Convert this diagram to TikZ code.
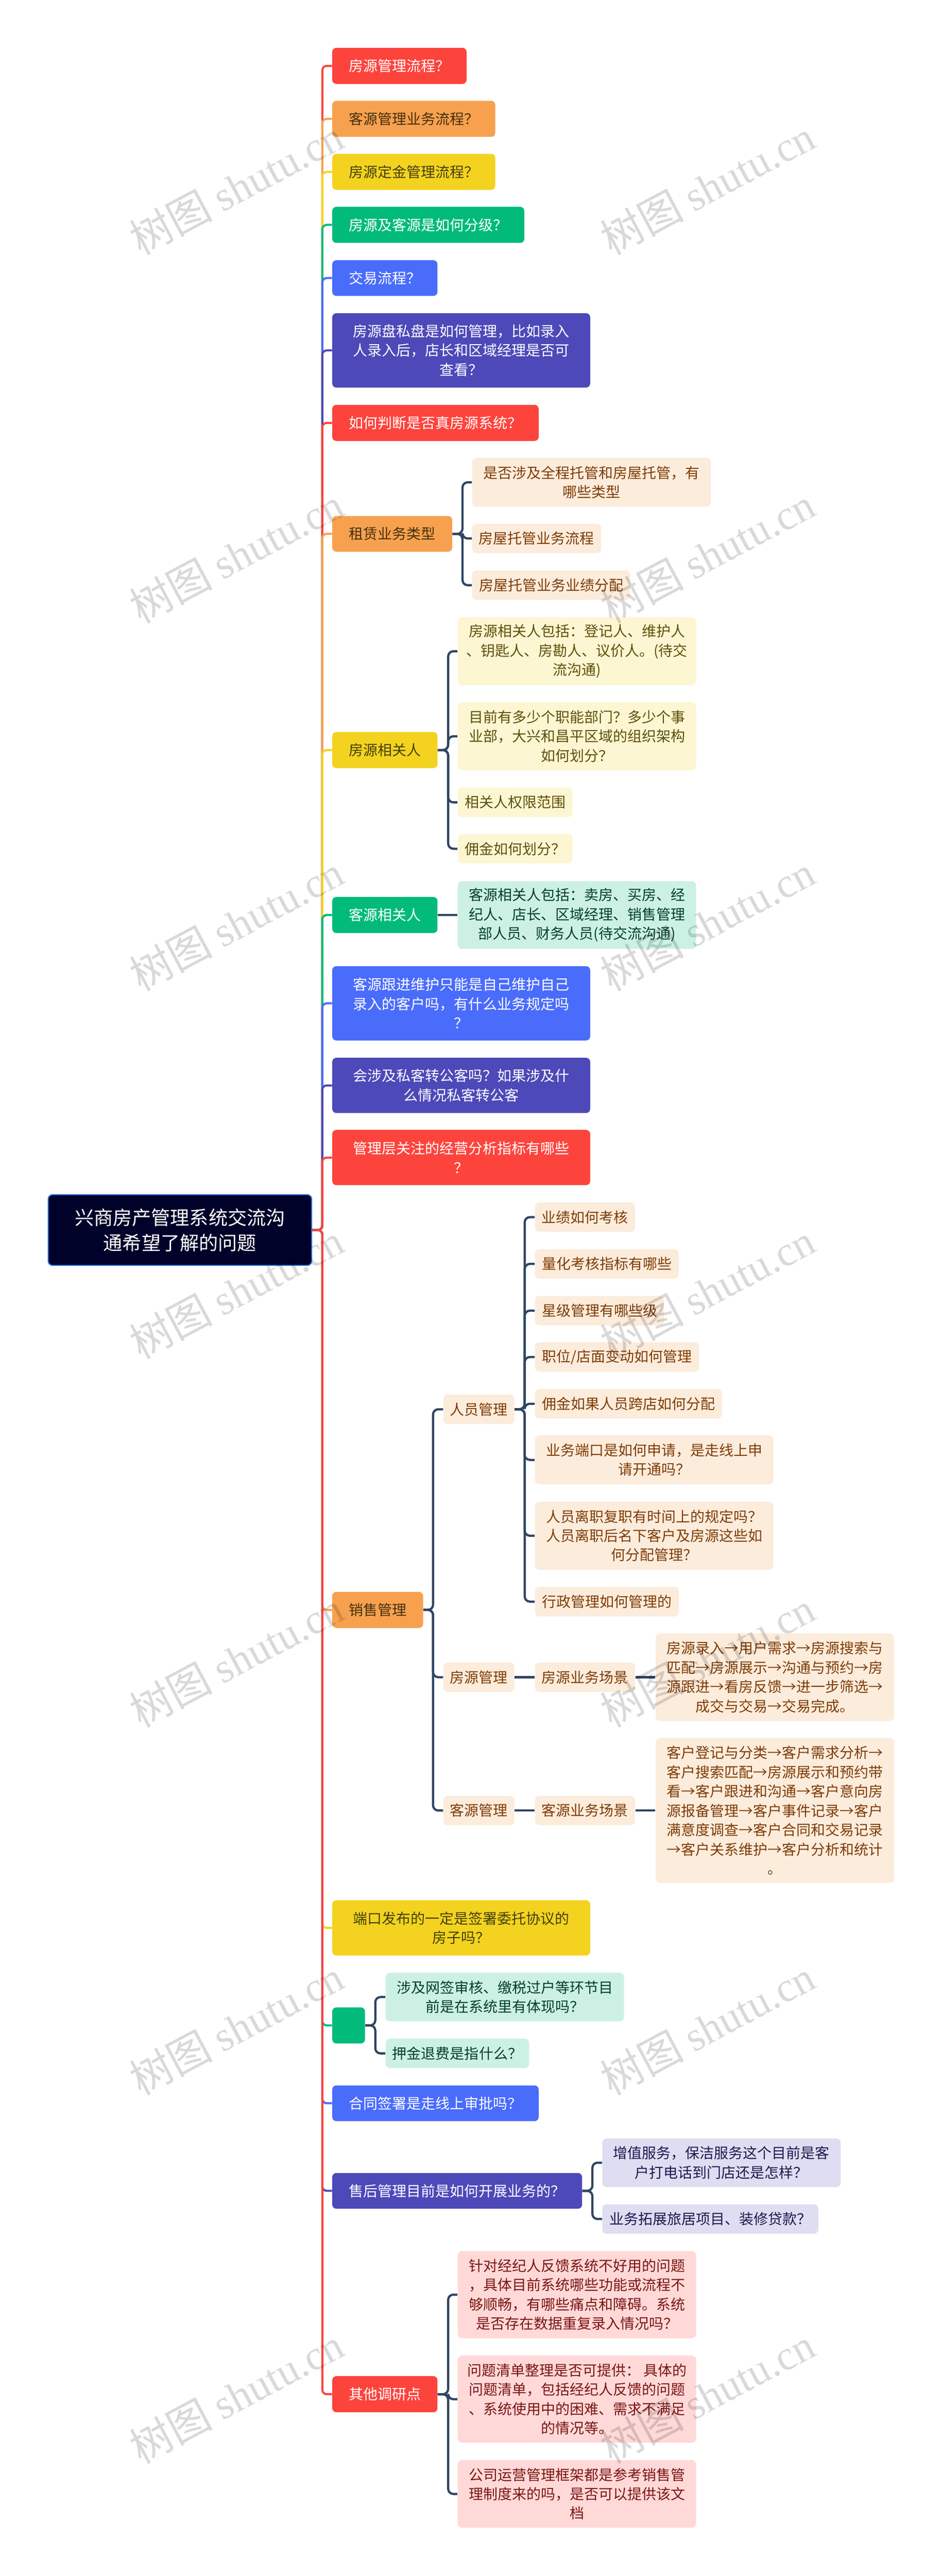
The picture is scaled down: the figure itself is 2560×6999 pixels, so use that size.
\documentclass[tikz,border=0pt]{standalone}
\usepackage{fontspec}
\setmainfont{Noto Sans CJK SC}
\newfontfamily\markfont{Liberation Serif}
\definecolor{fillred}{HTML}{FC443D}
\definecolor{inkred}{HTML}{FFFFFF}
\definecolor{fillorange}{HTML}{F7A14F}
\definecolor{inkorange}{HTML}{44300F}
\definecolor{fillyellow}{HTML}{F3D31F}
\definecolor{inkyellow}{HTML}{44400F}
\definecolor{fillgreen}{HTML}{02BB7A}
\definecolor{inkgreen}{HTML}{FFFFFF}
\definecolor{fillblue}{HTML}{4A6CFB}
\definecolor{inkblue}{HTML}{FFFFFF}
\definecolor{fillindigo}{HTML}{4D49B8}
\definecolor{inkindigo}{HTML}{FFFFFF}
\definecolor{fillpeach}{HTML}{FCECDC}
\definecolor{inkpeach}{HTML}{7E3C05}
\definecolor{fillcream}{HTML}{FCF6D2}
\definecolor{inkcream}{HTML}{5E4F0A}
\definecolor{fillmint}{HTML}{CCF1E4}
\definecolor{inkmint}{HTML}{033E29}
\definecolor{filllav}{HTML}{DEDDF2}
\definecolor{inklav}{HTML}{1B1A4B}
\definecolor{fillpink}{HTML}{FFD9D8}
\definecolor{inkpink}{HTML}{7A1512}
\definecolor{twigcolor}{HTML}{2F4562}
\definecolor{rootfill}{HTML}{000229}
\definecolor{rootline}{HTML}{2B6FD4}
\tikzset{
  boxed/.style={inner sep=0pt,align=center,font=\fontsize{9.8}{13.1}\selectfont},
  topic/.style={boxed,rounded corners=2.75pt,fill=fill#1,text=ink#1},
  leaf/.style={boxed,rounded corners=3pt,fill=fill#1,text=ink#1},
  trunk/.style={draw=fill#1,line width=1.4pt,rounded corners=3pt},
  twig/.style={draw=twigcolor,line width=1.5pt},
  bentwig/.style={twig,rounded corners=3.5pt},
  watermark/.style={text=black,text opacity=.15,rotate=28,anchor=base west,font=\fontsize{28.4}{34}\selectfont}
}
\begin{document}
\begin{tikzpicture}[x=0.25pt,y=-0.25pt]
	\useasboundingbox (0,0) rectangle (2560,6999);

	% The root on the left
	\node [inner sep=0pt,align=center,rounded corners=3pt,fill=rootfill,draw=rootline,line width=.75pt,text=white,
	  font=\fontsize{13}{17.25}\selectfont,minimum width=179pt,minimum height=48pt] (root) at (489,3342)
	  {兴商房产管理系统交流沟\\通希望了解的问题};

	\coordinate (spine) at (876,0);

	% First level, all flush at the same left edge
	\foreach \id/\tone/\yt/\yb/\xr/\txt in {
	  t1/red/130/228/1268/{房源管理流程？},
	  t2/orange/274/372/1346/{客源管理业务流程？},
	  t3/yellow/418/516/1346/{房源定金管理流程？},
	  t4/green/562/660/1425/{房源及客源是如何分级？},
	  t5/blue/707/804/1189/{交易流程？},
	  t6/indigo/851/1053/1604/{房源盘私盘是如何管理，比如录入\\人录入后，店长和区域经理是否可\\查看？},
	  t7/red/1100/1198/1464/{如何判断是否真房源系统？},
	  t8/orange/1402/1499/1229/{租赁业务类型},
	  t9/yellow/1989/2087/1189/{房源相关人},
	  t10/green/2437/2535/1189/{客源相关人},
	  t11/blue/2625/2827/1604/{客源跟进维护只能是自己维护自己\\录入的客户吗，有什么业务规定吗\\？},
	  t12/indigo/2874/3024/1604/{会涉及私客转公客吗？如果涉及什\\么情况私客转公客},
	  t13/red/3070/3220/1604/{管理层关注的经营分析指标有哪些\\？},
	  t14/orange/4325/4423/1150/{销售管理},
	  t15/yellow/5163/5313/1604/{端口发布的一定是签署委托协议的\\房子吗？},
	  t16/green/5454/5552/992/{},
	  t17/blue/5666/5763/1464/{合同签署是走线上审批吗？},
	  t18/indigo/5904/6001/1582/{售后管理目前是如何开展业务的？},
	  t19/red/6456/6554/1189/{其他调研点}} {
	  \node [topic/.expand once=\tone,minimum width={(\xr-903)*0.25pt},minimum height={(\yb-\yt)*0.25pt}]
	    (\id) at ({(903+\xr)/2},{(\yt+\yb)/2}) {\txt};
	}

	% Everything further out
	\foreach \id/\tone/\xl/\xr/\yt/\yb/\txt in {
	  a1/peach/1283/1932/1244/1377/{是否涉及全程托管和房屋托管，有\\哪些类型},
	  a2/peach/1283/1634/1423/1503/{房屋托管业务流程},
	  a3/peach/1283/1713/1550/1630/{房屋托管业务业绩分配},
	  b1/cream/1244/1892/1677/1862/{房源相关人包括：登记人、维护人\\、钥匙人、房勘人、议价人。(待交\\流沟通)},
	  b2/cream/1244/1892/1908/2093/{目前有多少个职能部门？多少个事\\业部，大兴和昌平区域的组织架构\\如何划分？},
	  b3/cream/1244/1556/2140/2220/{相关人权限范围},
	  b4/cream/1244/1556/2266/2346/{佣金如何划分？},
	  c1/mint/1244/1892/2394/2578/{客源相关人包括：卖房、买房、经\\纪人、店长、区域经理、销售管理\\部人员、财务人员(待交流沟通)},
	  s1/peach/1205/1398/3789/3869/{人员管理},
	  s2/peach/1205/1398/4517/4597/{房源管理},
	  s3/peach/1205/1398/4879/4959/{客源管理},
	  e1/peach/1454/1726/3267/3347/{业绩如何考核},
	  e2/peach/1454/1845/3394/3474/{量化考核指标有哪些},
	  e3/peach/1454/1805/3521/3601/{星级管理有哪些级},
	  e4/peach/1454/1900/3647/3727/{职位/店面变动如何管理},
	  e5/peach/1454/1962/3774/3854/{佣金如果人员跨店如何分配},
	  e6/peach/1454/2102/3900/4033/{业务端口是如何申请，是走线上申\\请开通吗？},
	  e7/peach/1454/2102/4080/4265/{人员离职复职有时间上的规定吗？\\人员离职后名下客户及房源这些如\\何分配管理？},
	  e8/peach/1454/1845/4311/4392/{行政管理如何管理的},
	  g1/peach/1454/1726/4517/4597/{房源业务场景},
	  g2/peach/1782/2430/4438/4676/{房源录入→用户需求→房源搜索与\\匹配→房源展示→沟通与预约→房\\源跟进→看房反馈→进一步筛选→\\成交与交易→交易完成。},
	  h1/peach/1454/1726/4879/4959/{客源业务场景},
	  h2/peach/1782/2430/4722/5116/{客户登记与分类→客户需求分析→\\客户搜索匹配→房源展示和预约带\\看→客户跟进和沟通→客户意向房\\源报备管理→客户事件记录→客户\\满意度调查→客户合同和交易记录\\→客户关系维护→客户分析和统计\\。},
	  i1/mint/1048/1696/5360/5492/{涉及网签审核、缴税过户等环节目\\前是在系统里有体现吗？},
	  i2/mint/1048/1438/5539/5619/{押金退费是指什么？},
	  j1/lav/1637/2285/5810/5942/{增值服务，保洁服务这个目前是客\\户打电话到门店还是怎样？},
	  j2/lav/1637/2224/5989/6069/{业务拓展旅居项目、装修贷款？},
	  k1/pink/1244/1892/6116/6353/{针对经纪人反馈系统不好用的问题\\，具体目前系统哪些功能或流程不\\够顺畅，有哪些痛点和障碍。系统\\是否存在数据重复录入情况吗？},
	  k2/pink/1244/1892/6400/6637/{问题清单整理是否可提供： 具体的\\问题清单，包括经纪人反馈的问题\\、系统使用中的困难、需求不满足\\的情况等。},
	  k3/pink/1244/1892/6684/6868/{公司运营管理框架都是参考销售管\\理制度来的吗，是否可以提供该文\\档}} {
	  \node [leaf/.expand once=\tone,minimum width={(\xr-\xl)*0.25pt},minimum height={(\yb-\yt)*0.25pt}]
	    (\id) at ({(\xl+\xr)/2},{(\yt+\yb)/2}) {\txt};
	}

	% Trunk: later ones lie over earlier ones, that gives the colour steps
	\foreach \id/\tone in {t1/red,t2/orange,t3/yellow,t4/green,t5/blue,t6/indigo,t7/red,t8/orange,t9/yellow,t10/green,t11/blue,t12/indigo,t13/red,
	  t14/orange,t15/yellow,t16/green,t17/blue,t18/indigo,t19/red} {
	  \draw [trunk/.expand once=\tone] (root.east) -- (spine |- root.east) -- (spine |- \id.west) -- (\id.west);
	}

	% Buses of the side branches
	\foreach \bus/\x in {bust8/1257,bust9/1218,busth/1177,buss1/1426,bust16/1020,bust18/1610,bust19/1218} {
	  \coordinate (\bus) at (\x,0);
	}
	\foreach \from/\bus/\to in {
	  t8/bust8/a1,t8/bust8/a2,t8/bust8/a3,
	  t9/bust9/b1,t9/bust9/b2,t9/bust9/b3,t9/bust9/b4,
	  t14/busth/s1,t14/busth/s2,t14/busth/s3,
	  s1/buss1/e1,s1/buss1/e2,s1/buss1/e3,s1/buss1/e4,s1/buss1/e5,s1/buss1/e6,s1/buss1/e7,s1/buss1/e8,
	  t16/bust16/i1,t16/bust16/i2,
	  t18/bust18/j1,t18/bust18/j2,
	  t19/bust19/k1,t19/bust19/k2,t19/bust19/k3} {
	  \draw [bentwig] (\from.east) -- (\bus |- \from.east) -- (\bus |- \to.west) -- (\to.west);
	}

	% One child only, straight
	\foreach \from/\to in {t10/c1,s2/g1,g1/g2,s3/h1,h1/h2} {
	  \draw [twig] (\from.east) -- (\to.west);
	}

	% Watermark, tiled
	\foreach \row in {0,...,6} {
	  \foreach \col in {0,1} {
	    \node [watermark] (mark\row\col) at (370+\col*1280,702+\row*1000) {树图 {\markfont shutu.cn}};
	  }
	}
\end{tikzpicture}
\end{document}
